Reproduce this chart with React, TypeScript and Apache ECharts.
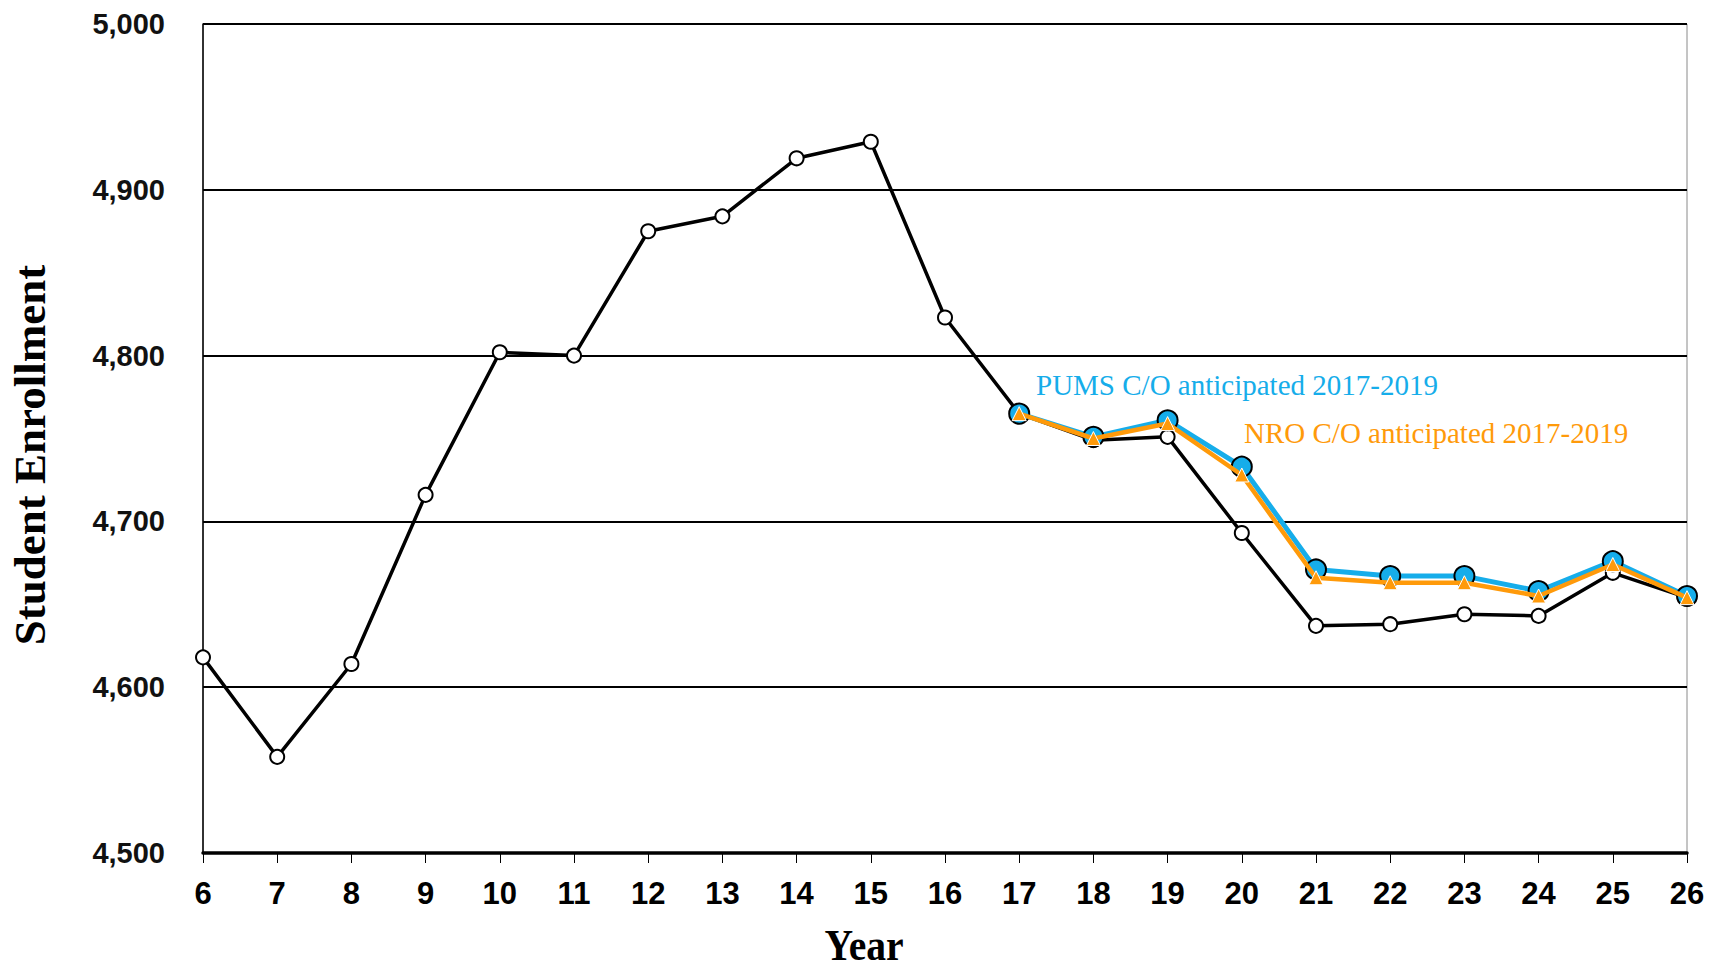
import React, { useEffect, useRef } from "react";
import * as echarts from "echarts";

const years = ["6","7","8","9","10","11","12","13","14","15","16","17","18","19","20","21","22","23","24","25","26"];
const actual = [4618,4558,4614,4716,4802,4800,4875,4884,4919,4929,4823,4765,4749,4751,4693,4637,4638,4644,4643,4669,4654];
const pums = [null,null,null,null,null,null,null,null,null,null,null,4765,4751,4761,4733,4671,4667,4667,4658,4676,4655];
const nro = [null,null,null,null,null,null,null,null,null,null,null,4765,4750,4759,4728,4666,4663,4663,4655,4674,4654];
const yTicks = { min: 4500, max: 5000, step: 100 };
const pumsLabel = "PUMS C/O anticipated 2017-2019";
const nroLabel = "NRO C/O anticipated 2017-2019";
const yTitle = "Student Enrollment";
const xTitle = "Year";

const BLUE = "#16ADEA";
const ORANGE = "#FF9A0A";

export default function App() {
  const ref = useRef<HTMLDivElement>(null);
  useEffect(() => {
    if (!ref.current) return;
    const chart = echarts.init(ref.current, undefined, { renderer: "svg" });
    chart.setOption({
      animation: false,
      backgroundColor: "#ffffff",
      grid: { left: 203, right: 22, top: 24, bottom: 116, show: true, borderColor: "#8a8a8a", borderWidth: 1, backgroundColor: "transparent" },
      xAxis: {
        type: "category",
        data: years,
        boundaryGap: false,
        axisLine: { show: true, lineStyle: { color: "#000", width: 3.5 } },
        axisTick: { show: true, length: 10, lineStyle: { color: "#000", width: 1 } },
        axisLabel: { color: "#000", fontFamily: "'Liberation Sans', Arial, sans-serif", fontWeight: "bold", fontSize: 31, margin: 25 },
        splitLine: { show: false },
      },
      yAxis: {
        type: "value",
        min: yTicks.min,
        max: yTicks.max,
        interval: yTicks.step,
        axisLine: { show: true, lineStyle: { color: "#000", width: 1.5 } },
        axisTick: { show: false },
        axisLabel: {
          color: "#111",
          fontFamily: "'Liberation Sans', Arial, sans-serif",
          fontWeight: "bold",
          fontSize: 29,
          margin: 38,
          formatter: (v: number) => v.toLocaleString("en-US"),
        },
        splitLine: { show: true, lineStyle: { color: "#000", width: 2 } },
      },
      series: [
        {
          type: "line",
          data: actual,
          z: 2,
          lineStyle: { color: "#000", width: 3.5 },
          symbol: "circle",
          symbolSize: 14,
          itemStyle: { color: "#fff", borderColor: "#000", borderWidth: 2 },
        },
        {
          type: "line",
          data: pums,
          z: 3,
          lineStyle: { color: BLUE, width: 5 },
          symbol: "circle",
          symbolSize: 20,
          itemStyle: { color: BLUE, borderColor: "#000", borderWidth: 2 },
        },
        {
          type: "line",
          data: nro,
          z: 4,
          lineStyle: { color: ORANGE, width: 4.5 },
          symbol: "triangle",
          symbolSize: 14,
          itemStyle: { color: ORANGE, borderColor: "#fff", borderWidth: 1 },
        },
      ],
      graphic: [
        {
          type: "text",
          x: 30,
          y: 455,
          rotation: Math.PI / 2,
          style: {
            text: yTitle,
            fill: "#000",
            font: "bold 45px 'Liberation Serif', 'Times New Roman', serif",
            align: "center",
            verticalAlign: "middle",
          },
        },
        {
          type: "text",
          x: 864,
          y: 945,
          scaleX: 0.88,
          style: {
            text: xTitle,
            fill: "#000",
            font: "bold 45px 'Liberation Serif', 'Times New Roman', serif",
            align: "center",
            verticalAlign: "middle",
          },
        },
        {
          type: "text",
          x: 1036,
          y: 385,
          style: {
            text: pumsLabel,
            fill: BLUE,
            font: "29px 'Liberation Serif', 'Times New Roman', serif",
            align: "left",
            verticalAlign: "middle",
          },
        },
        {
          type: "text",
          x: 1244,
          y: 433,
          style: {
            text: nroLabel,
            fill: ORANGE,
            font: "29px 'Liberation Serif', 'Times New Roman', serif",
            align: "left",
            verticalAlign: "middle",
          },
        },
      ],
    });
    return () => chart.dispose();
  }, []);
  return <div ref={ref} style={{ position: "absolute", left: 0, top: 0, width: 1709, height: 969 }} />;
}
